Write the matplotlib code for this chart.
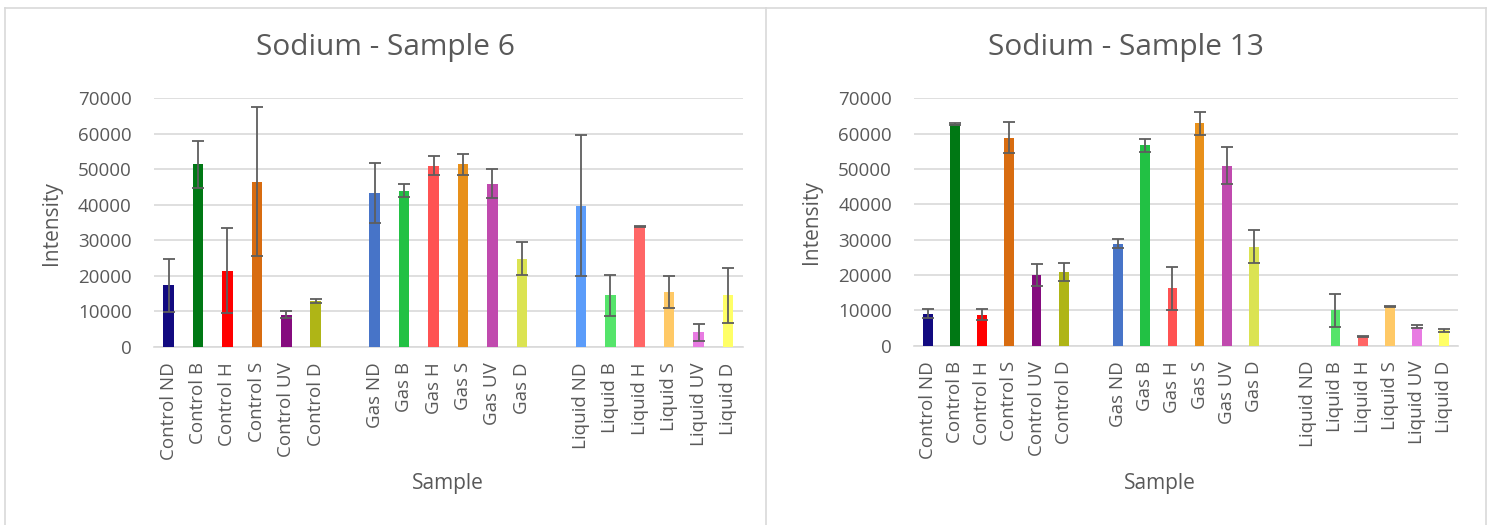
import numpy as np
import matplotlib
matplotlib.use("Agg")
import matplotlib.pyplot as plt
from matplotlib.lines import Line2D

# ---------------- data ----------------
groups = ["Control", "Gas", "Liquid"]
treatments = ["ND", "B", "H", "S", "UV", "D"]
categories = [f"{g} {t}" for g in groups for t in treatments]

colors = [
    "#120A80", "#007814", "#FF0000", "#D86C10", "#850B7E", "#AFB516",
    "#4774C8", "#22C144", "#FF5252", "#E8901A", "#C04AAE", "#DBE352",
    "#5B9CFA", "#55E46A", "#FF6666", "#FFC966", "#E87BE2", "#FFFF66",
]

titles = ["Sodium - Sample 6", "Sodium - Sample 13"]

values6 = [17400, 51400, 21500, 46500, 9100, 12900,
           43400, 44000, 51000, 51400, 46000, 24900,
           39800, 14500, 33900, 15400, 4100, 14500]
err6 = [7500, 6600, 11900, 21000, 900, 600,
        8500, 1800, 2700, 2900, 4200, 4700,
        19900, 5800, 150, 4500, 2300, 7700]

values13 = [9100, 62800, 8800, 58900, 20100, 20900,
            28900, 56700, 16200, 62900, 50900, 28000,
            0, 10000, 2700, 11100, 5400, 4400]
err13 = [1200, 250, 1600, 4300, 3100, 2600,
         1300, 1800, 6000, 3200, 5200, 4600,
         0, 4600, 100, 150, 500, 450]

yticks = [0, 10000, 20000, 30000, 40000, 50000, 60000, 70000]

# ---------------- style ----------------
TXT = "#595959"
GRID = "#D9D9D9"
TICKFONT = "Open Sans"
TITLEFONT = "Open Sans"

W, H = 1492, 525
fig = plt.figure(figsize=(W / 100, H / 100), dpi=100)


def fx(px):
    return px / W


def fy(py):
    return 1 - py / H


axes_px = [
    (153.8, 742.8, 98.3, 347.0),
    (914.2, 1457.8, 98.3, 345.7),
]
title_x = [385.0, 1125.7]
ylabel_x = [52.0, 812.0]
xlabel_x = [448.0, 1160.0]

# slot positions: each group of 6 separated by one empty slot
ntreat = len(treatments)
slots = [gi * (ntreat + 1) + ti for gi in range(len(groups)) for ti in range(ntreat)]

datasets = [(values6, err6), (values13, err13)]

for k, (vals, errs) in enumerate(datasets):
    l, r, t, b = axes_px[k]
    ax = fig.add_axes([fx(l), fy(b), fx(r - l), (b - t) / H])
    x = np.array(slots, dtype=float)
    v = np.array(vals, dtype=float)
    e = np.array(errs, dtype=float)
    ax.bar(x, v, width=0.36, color=colors, zorder=3)
    m = v > 0
    ax.errorbar(x[m], v[m], yerr=e[m], fmt="none", ecolor="#5E5E5E",
                elinewidth=1.3, capsize=4.5, capthick=1.3, zorder=4)
    ax.set_xlim(-0.5, 3 * ntreat + 2 - 0.5)
    ax.set_ylim(0, 70000)
    ax.set_yticks(yticks)
    ax.set_yticklabels([str(tk) for tk in yticks], fontsize=13.5,
                       family=TICKFONT, color=TXT)
    ax.set_xticks(x)
    ax.set_xticklabels(categories, rotation=90, fontsize=13.5,
                       family=TICKFONT, color=TXT, va="top", ha="center")
    ax.tick_params(axis="y", length=0, pad=16)
    ax.tick_params(axis="x", length=0, pad=11)
    for s in ["left", "right", "top"]:
        ax.spines[s].set_visible(False)
    ax.spines["bottom"].set_color(GRID)
    ax.spines["bottom"].set_linewidth(1.2)
    ax.grid(axis="y", color=GRID, linewidth=1.2, zorder=0)
    ax.set_axisbelow(True)
    ax.patch.set_alpha(0)

    fig.text(fx(title_x[k]), fy(48), titles[k], ha="center", va="center",
             fontsize=21.5, family=TITLEFONT, color=TXT)
    fig.text(fx(ylabel_x[k]), fy((t + b) / 2), "Intensity", rotation=90,
             ha="center", va="center", fontsize=15, family=TICKFONT, color=TXT)
    fig.text(fx(xlabel_x[k]), fy(484), "Sample", ha="center", va="center",
             fontsize=15, family=TICKFONT, color=TXT)

# panel borders
border = dict(color=GRID, linewidth=1.2, transform=fig.transFigure)
fig.add_artist(Line2D([fx(4.5), fx(1485.7)], [fy(8), fy(8)], **border))
for px in (4.5, 765.7, 1485.7):
    fig.add_artist(Line2D([fx(px), fx(px)], [0, fy(8)], **border))

fig.savefig("out.png", dpi=100)
